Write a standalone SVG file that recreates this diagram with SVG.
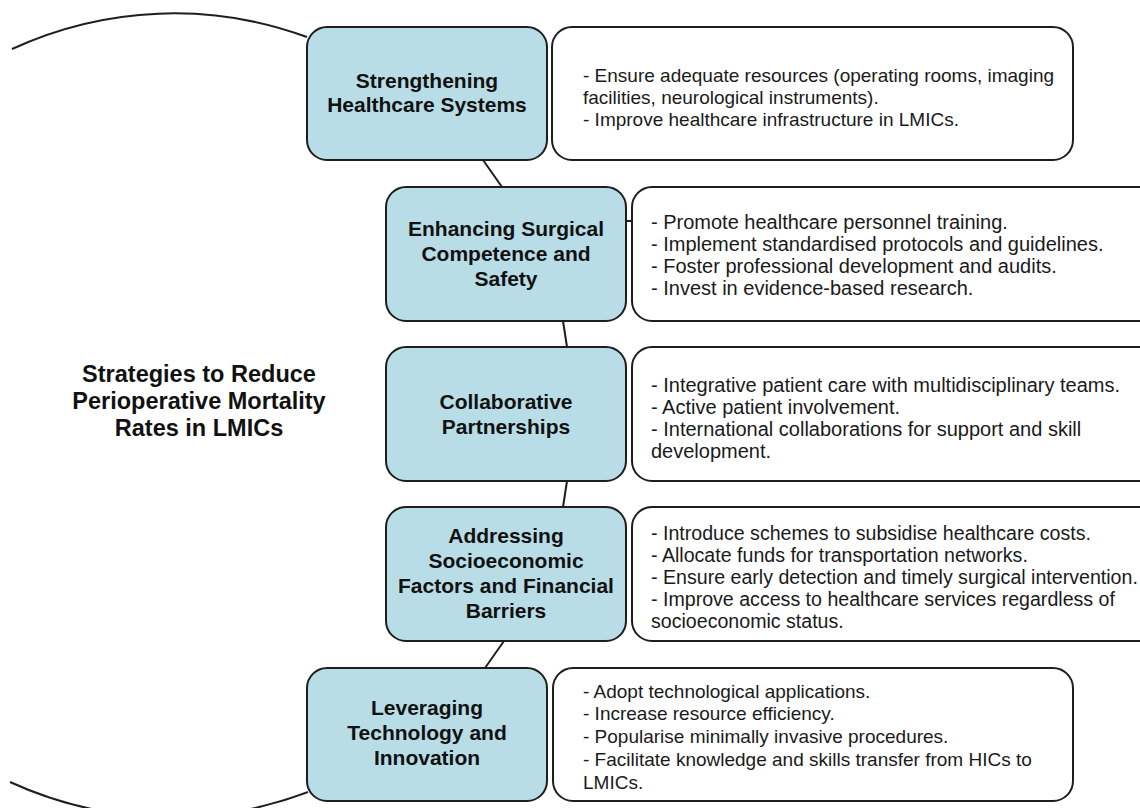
<svg xmlns="http://www.w3.org/2000/svg" width="1140" height="808" viewBox="0 0 1140 808">
  <style>
    .topic { fill: #b8dde6; stroke: #1e1e1e; stroke-width: 2; }
    .detail { fill: #ffffff; stroke: #1e1e1e; stroke-width: 2; }
    .link { fill: none; stroke: #1e1e1e; stroke-width: 2; }
    .label { font-family: "Liberation Sans", Arial, sans-serif; font-weight: bold; font-size: 21px; fill: #111; text-anchor: middle; }
    .title { font-family: "Liberation Sans", Arial, sans-serif; font-weight: bold; font-size: 23.5px; fill: #111; text-anchor: middle; }
    .body { font-family: "Liberation Sans", Arial, sans-serif; font-size: 19px; fill: #1a1a1a; }
    .body-wide { font-family: "Liberation Sans", Arial, sans-serif; font-size: 20px; fill: #1a1a1a; }
    .body-mid { font-family: "Liberation Sans", Arial, sans-serif; font-size: 19.6px; fill: #1a1a1a; }
  </style>

  <rect width="1140" height="808" fill="#ffffff"/>

  <!-- connectors: central ellipse arcs and links between strategy boxes -->
  <g id="connectors">
    <path class="link" d="M 12 49 A 393 401 0 0 1 307 37"/>
    <path class="link" d="M 10 782 A 393 401 0 0 0 308 792"/>
    <line class="link" x1="483" y1="160" x2="502" y2="187"/>
    <line class="link" x1="563" y1="321" x2="567" y2="347"/>
    <line class="link" x1="567" y1="481" x2="563" y2="507"/>
    <line class="link" x1="504" y1="641" x2="485" y2="668"/>
    <line class="link" x1="626" y1="221" x2="632" y2="221"/>
  </g>

  <!-- central topic -->
  <g id="central-topic">
    <text class="title" x="199" y="382">Strategies to Reduce</text>
    <text class="title" x="199" y="409">Perioperative Mortality</text>
    <text class="title" x="199" y="436">Rates in LMICs</text>
  </g>

  <!-- strategy 1 -->
  <g id="strengthening-healthcare">
    <rect class="topic" x="307" y="27" width="240" height="133" rx="20"/>
    <text class="label" x="427" y="88">Strengthening</text>
    <text class="label" x="427" y="112">Healthcare Systems</text>
  </g>
  <g id="strengthening-healthcare-details">
    <rect class="detail" x="552" y="27" width="521" height="133" rx="20"/>
    <text class="body" x="583" y="82">- Ensure adequate resources (operating rooms, imaging</text>
    <text class="body" x="583" y="104">facilities, neurological instruments).</text>
    <text class="body" x="583" y="126">- Improve healthcare infrastructure in LMICs.</text>
  </g>

  <!-- strategy 2 -->
  <g id="surgical-competence">
    <rect class="topic" x="386" y="187" width="240" height="134" rx="20"/>
    <text class="label" x="506" y="236">Enhancing Surgical</text>
    <text class="label" x="506" y="261">Competence and</text>
    <text class="label" x="506" y="286">Safety</text>
  </g>
  <g id="surgical-competence-details">
    <rect class="detail" x="632" y="187" width="530" height="134" rx="20"/>
    <text class="body-wide" x="651" y="229">- Promote healthcare personnel training.</text>
    <text class="body-wide" x="651" y="251">- Implement standardised protocols and guidelines.</text>
    <text class="body-wide" x="651" y="273">- Foster professional development and audits.</text>
    <text class="body-wide" x="651" y="295">- Invest in evidence-based research.</text>
  </g>

  <!-- strategy 3 -->
  <g id="collaborative-partnerships">
    <rect class="topic" x="386" y="347" width="240" height="134" rx="20"/>
    <text class="label" x="506" y="409">Collaborative</text>
    <text class="label" x="506" y="434">Partnerships</text>
  </g>
  <g id="collaborative-partnerships-details">
    <rect class="detail" x="632" y="347" width="530" height="134" rx="20"/>
    <text class="body-wide" x="651" y="392">- Integrative patient care with multidisciplinary teams.</text>
    <text class="body-wide" x="651" y="414">- Active patient involvement.</text>
    <text class="body-wide" x="651" y="436">- International collaborations for support and skill</text>
    <text class="body-wide" x="651" y="458">development.</text>
  </g>

  <!-- strategy 4 -->
  <g id="socioeconomic-factors">
    <rect class="topic" x="386" y="507" width="240" height="134" rx="20"/>
    <text class="label" x="506" y="543">Addressing</text>
    <text class="label" x="506" y="568">Socioeconomic</text>
    <text class="label" x="506" y="593">Factors and Financial</text>
    <text class="label" x="506" y="618">Barriers</text>
  </g>
  <g id="socioeconomic-factors-details">
    <rect class="detail" x="632" y="507" width="530" height="134" rx="20"/>
    <text class="body-mid" x="651" y="540">- Introduce schemes to subsidise healthcare costs.</text>
    <text class="body-mid" x="651" y="562">- Allocate funds for transportation networks.</text>
    <text class="body-mid" x="651" y="584">- Ensure early detection and timely surgical intervention.</text>
    <text class="body-mid" x="651" y="606">- Improve access to healthcare services regardless of</text>
    <text class="body-mid" x="651" y="628">socioeconomic status.</text>
  </g>

  <!-- strategy 5 -->
  <g id="technology-innovation">
    <rect class="topic" x="307" y="668" width="240" height="133" rx="20"/>
    <text class="label" x="427" y="715">Leveraging</text>
    <text class="label" x="427" y="740">Technology and</text>
    <text class="label" x="427" y="765">Innovation</text>
  </g>
  <g id="technology-innovation-details">
    <rect class="detail" x="553" y="668" width="520" height="133" rx="20"/>
    <text class="body" x="583" y="698">- Adopt technological applications.</text>
    <text class="body" x="583" y="720">- Increase resource efficiency.</text>
    <text class="body" x="583" y="743">- Popularise minimally invasive procedures.</text>
    <text class="body" x="583" y="766">- Facilitate knowledge and skills transfer from HICs to</text>
    <text class="body" x="583" y="789">LMICs.</text>
  </g>
</svg>
